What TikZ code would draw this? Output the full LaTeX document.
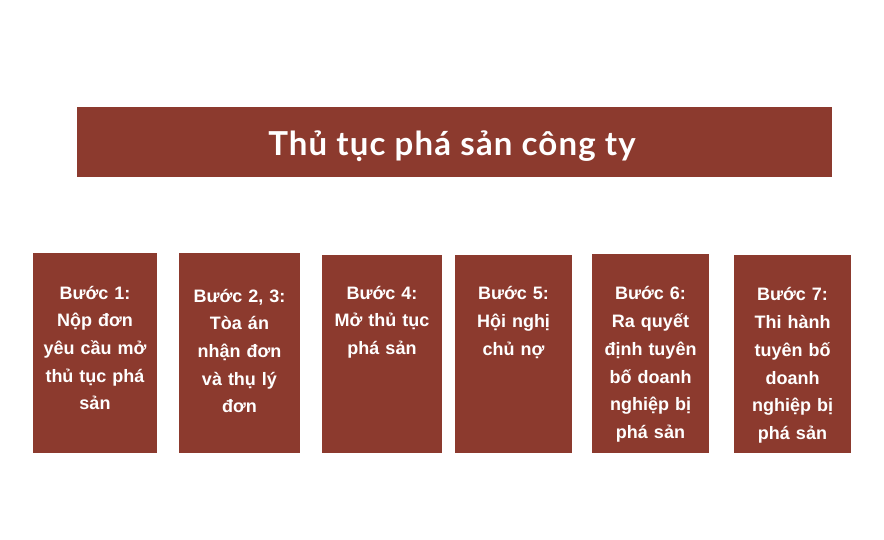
\documentclass[tikz,border=0pt]{standalone}
\usepackage{fontspec}
\setmainfont{Liberation Sans}
\newfontfamily\titlefont{Lato}[LetterSpace=3.5]
\definecolor{brick}{HTML}{8C3A2E}
\tikzset{
  x=1pt,y=-1pt,
  stepbox/.style={fill=brick,draw=none,inner sep=0pt,anchor=north west},
  steptext/.style={text=white,font=\bfseries\fontsize{18}{27.7}\selectfont,align=center,text width=117pt,anchor=base,inner sep=0pt},
  titletext/.style={text=white,font=\titlefont\bfseries\fontsize{33}{38}\selectfont,inner sep=0pt,anchor=base}
}
\begin{document}
\begin{tikzpicture}
\useasboundingbox (0,0) rectangle (884,540);
\node[stepbox,minimum width=755pt,minimum height=70pt] (title) at (77,107) {};
\node[titletext] (tt) at (452,156) {Thủ tục phá sản công ty};
\node[stepbox,minimum width=124pt,minimum height=200pt] (b1) at (33,253) {};
\node[stepbox,minimum width=121pt,minimum height=200pt] (b2) at (179,253) {};
\node[stepbox,minimum width=120pt,minimum height=198pt] (b3) at (322,255) {};
\node[stepbox,minimum width=117pt,minimum height=198pt] (b4) at (455,255) {};
\node[stepbox,minimum width=117pt,minimum height=199pt] (b5) at (592,254) {};
\node[stepbox,minimum width=117pt,minimum height=198pt] (b6) at (734,255) {};
\node[steptext] (t1) at (95,299) {Bước 1:\\Nộp đơn\\yêu cầu mở\\thủ tục phá\\sản};
\node[steptext] (t2) at (239.5,302) {Bước 2, 3:\\Tòa án\\nhận đơn\\và thụ lý\\đơn};
\node[steptext] (t3) at (382,299) {Bước 4:\\Mở thủ tục\\phá sản};
\node[steptext] (t4) at (513.5,300) {Bước 5:\\Hội nghị\\chủ nợ};
\node[steptext] (t5) at (650.5,300) {Bước 6:\\Ra quyết\\định tuyên\\bố doanh\\nghiệp bị\\phá sản};
\node[steptext] (t6) at (792.5,301) {Bước 7:\\Thi hành\\tuyên bố\\doanh\\nghiệp bị\\phá sản};
\end{tikzpicture}
\end{document}
